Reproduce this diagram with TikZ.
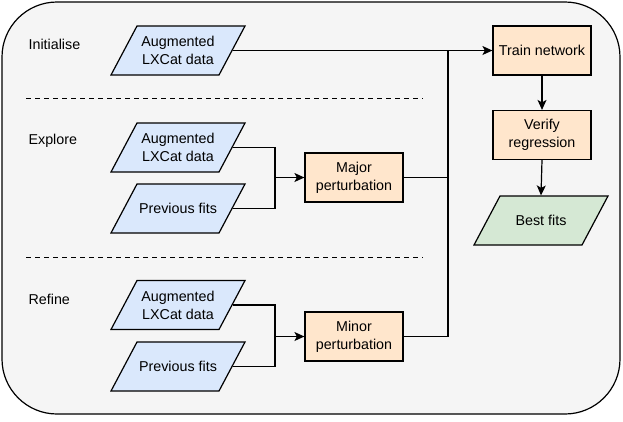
\documentclass[tikz,border=0pt]{standalone}
\usepackage{fontspec}
\setmainfont{Liberation Sans}
\usetikzlibrary{calc,arrows.meta}
\definecolor{panelgray}{HTML}{F5F5F5}
\definecolor{datablue}{HTML}{DAE8FC}
\definecolor{steporange}{HTML}{FFE6CC}
\definecolor{fitgreen}{HTML}{D5E8D4}

% slanted data box: name, centre, fill, text
\newcommand{\datashape}[4]{%
    \draw[fill=#3] ($#2+(-67,24.5)$) -- ++(108,0) -- ++(26,-49) -- ++(-108,0) -- cycle;
    \node[datatext] (#1) at #2 {#4};}

\begin{document}
\begin{tikzpicture}[x=1pt, y=-1pt, line width=1.2pt,
        every node/.style={font=\fontsize{14.3}{18}\selectfont, align=center, inner sep=0pt},
        datatext/.style={rectangle, minimum width=108, minimum height=49},
        stepbox/.style={rectangle, draw=black, fill=steporange, minimum width=98, minimum height=49},
        flow/.style={-{Stealth[length=10pt, width=9pt, inset=2.5pt]}}]
        \useasboundingbox (0,0) rectangle (623,421);
        % Outer panel
        \draw[fill=panelgray, rounded corners=55] (2,2) rectangle (620,414);

        % Stage labels and separators
        \node[right] (lblini) at (28,44) {Initialise};
        \node[right] (lblexp) at (28,141) {Explore};
        \node[right] (lblref) at (28,299) {Refine};
        \draw[line width=1pt, dash pattern=on 5pt off 4pt] (26,98) -- (423,98);
        \draw[line width=1pt, dash pattern=on 5pt off 4pt] (26,257) -- (423,257);

        % Inputs
        \datashape{iniaug}{(178,50.5)}{datablue}{Augmented\\LXCat data}
        \datashape{expaug}{(178,147.5)}{datablue}{Augmented\\LXCat data}
        \datashape{exppre}{(178,208.5)}{datablue}{Previous fits}
        \datashape{refaug}{(178,305)}{datablue}{Augmented\\LXCat data}
        \datashape{refpre}{(178,366.5)}{datablue}{Previous fits}

        % Perturbation steps
        \node[stepbox] (major) at (354,177.5) {Major\\perturbation};
        \node[stepbox] (minor) at (354,336.5) {Minor\\perturbation};

        % Training chain
        \node[stepbox] (train) at (542,50.5) {Train network};
        \node[stepbox] (verify) at (542,135) {Verify\\regression};
        \datashape{best}{(541,220.5)}{fitgreen}{Best fits}

        % Junctions
        \coordinate (expjoin) at (275,177.5);
        \coordinate (refjoin) at (275,336.5);
        \coordinate (bus) at (448,50.5);

        % Connectors
        \draw (expaug.east) -| (expjoin);
        \draw (exppre.east) -| (expjoin);
        \draw[flow] (expjoin) -- (major.west);
        \draw (refaug.east) -| (refjoin);
        \draw (refpre.east) -| (refjoin);
        \draw[flow] (refjoin) -- (minor.west);
        \draw[flow] (iniaug.east) -- (train.west);
        \draw (major.east) -| (bus);
        \draw (minor.east) -| (bus);
        \draw[flow] (train.south) -- (verify.north);
        \draw[flow] (verify.south) -- (best.north);
    \end{tikzpicture}
\end{document}
